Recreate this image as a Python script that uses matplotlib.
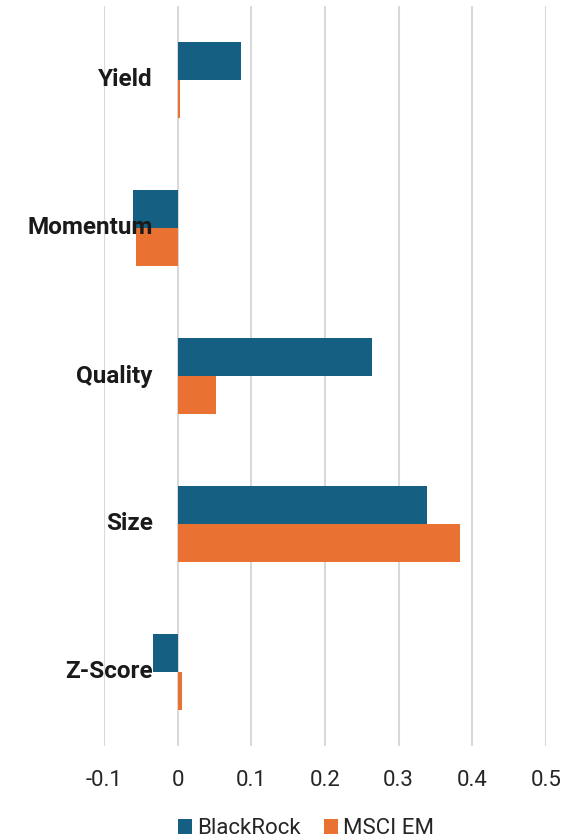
import matplotlib
matplotlib.use("Agg")
import matplotlib.pyplot as plt
import numpy as np

categories = ["Yield", "Momentum", "Quality", "Size", "Z-Score"]
blackrock = [0.0857, -0.060, 0.2638, 0.3386, -0.034]
msci_em = [0.003, -0.056, 0.0521, 0.3826, 0.006]
x_ticks = [-0.1, 0, 0.1, 0.2, 0.3, 0.4, 0.5]
x_tick_labels = ["-0.1", "0", "0.1", "0.2", "0.3", "0.4", "0.5"]
series_names = ["BlackRock", "MSCI EM"]

BLUE = "#156082"
ORANGE = "#E97132"
FONT = ["Roboto", "DejaVu Sans"]
plt.rcParams['font.family'] = FONT

fig = plt.figure(figsize=(5.75, 8.4), dpi=100)
ax = fig.add_axes([104/575, 1-746/840, (546-104)/575, (746-6)/840])

y = np.arange(len(categories))
h = 0.257
b1 = ax.barh(y - h/2, blackrock, height=h, color=BLUE, label=series_names[0], zorder=3)
b2 = ax.barh(y + h/2, msci_em, height=h, color=ORANGE, label=series_names[1], zorder=3)

ax.set_xlim(-0.1, 0.5)
ax.set_ylim(len(categories) - 0.5, -0.5)
ax.set_xticks(x_ticks)
ax.set_xticklabels(x_tick_labels, fontsize=16, color="#262626")
ax.tick_params(axis='x', length=0, pad=17)
ax.set_yticks([])
ax.grid(axis='x', color="#D9D9D9", linewidth=1.5, zorder=0)
for s in ax.spines.values():
    s.set_visible(False)

for yi, lab in zip(y, categories):
    ax.annotate(lab, xy=(0, yi), xytext=(-18, 0), textcoords='offset points',
                ha='right', va='center', fontsize=17.5, fontweight='bold',
                color="#1a1a1a", zorder=5)

fig.legend(handles=[b1, b2], labels=series_names, loc='center',
           bbox_to_anchor=(306/575, 1-829/840), ncol=2, frameon=False,
           fontsize=16, handlelength=0.63, handleheight=0.63,
           handletextpad=0.22, columnspacing=1.05, labelcolor="#262626",
           borderpad=0, borderaxespad=0)

fig.savefig("out.png", dpi=100)
